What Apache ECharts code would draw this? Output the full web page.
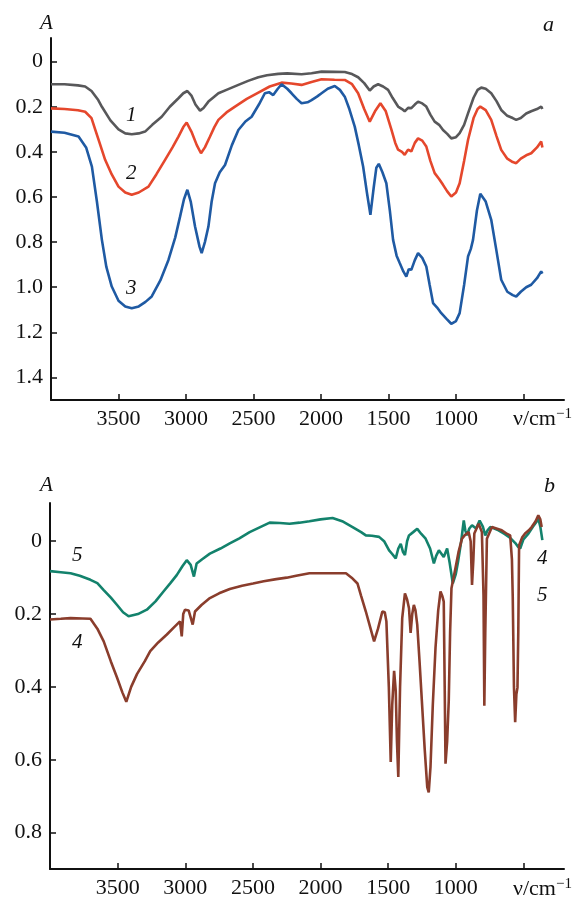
<!DOCTYPE html>
<html>
<head>
<meta charset="utf-8">
<script src="https://cdn.jsdelivr.net/npm/echarts@6/dist/echarts.min.js"></script>
<style>
html,body{margin:0;padding:0;background:#fff;}
#chart{width:587px;height:901px;}
</style>
</head>
<body>
<div id="chart"></div>
<script>
// ---- Data: [wavenumber cm^-1, absorbance A] ----
const curve1 = [[4000,0.10],[3900,0.10],[3800,0.105],[3747,0.11],[3700,0.13],[3650,0.17],[3623,0.20],[3560,0.26],[3500,0.30],[3450,0.318],[3402,0.322],[3350,0.318],[3303,0.31],[3250,0.28],[3180,0.244],[3120,0.20],[3056,0.162],[3020,0.14],[2990,0.13],[2960,0.15],[2930,0.19],[2896,0.217],[2870,0.205],[2834,0.177],[2800,0.16],[2760,0.14],[2700,0.125],[2612,0.103],[2540,0.085],[2464,0.069],[2400,0.06],[2317,0.054],[2250,0.052],[2144,0.056],[2070,0.051],[1996,0.044],[1900,0.045],[1824,0.046],[1770,0.055],[1725,0.069],[1680,0.095],[1639,0.128],[1610,0.11],[1577,0.10],[1540,0.11],[1503,0.125],[1470,0.16],[1429,0.199],[1400,0.21],[1380,0.22],[1355,0.205],[1331,0.206],[1305,0.19],[1281,0.177],[1250,0.185],[1220,0.199],[1190,0.235],[1158,0.266],[1125,0.28],[1096,0.303],[1065,0.32],[1035,0.34],[1000,0.335],[973,0.317],[940,0.28],[911,0.229],[870,0.16],[840,0.125],[813,0.115],[780,0.12],[739,0.14],[700,0.175],[665,0.214],[620,0.24],[580,0.25],[554,0.258],[520,0.25],[480,0.23],[443,0.22],[400,0.21],[369,0.199],[360,0.21]];
const curve2 = [[4000,0.207],[3900,0.21],[3800,0.215],[3747,0.222],[3700,0.25],[3673,0.30],[3640,0.36],[3599,0.435],[3550,0.50],[3500,0.554],[3450,0.58],[3402,0.59],[3350,0.58],[3278,0.554],[3220,0.50],[3155,0.435],[3100,0.38],[3056,0.332],[3020,0.29],[2995,0.27],[2960,0.31],[2920,0.37],[2889,0.406],[2860,0.38],[2822,0.332],[2790,0.29],[2760,0.258],[2700,0.225],[2637,0.199],[2550,0.165],[2464,0.137],[2380,0.11],[2292,0.093],[2220,0.097],[2144,0.103],[2070,0.09],[1996,0.078],[1900,0.08],[1824,0.081],[1770,0.10],[1725,0.14],[1680,0.21],[1639,0.266],[1600,0.22],[1560,0.184],[1520,0.22],[1479,0.30],[1450,0.36],[1429,0.39],[1400,0.40],[1380,0.413],[1355,0.39],[1331,0.398],[1305,0.36],[1281,0.34],[1250,0.35],[1220,0.376],[1190,0.44],[1158,0.494],[1125,0.52],[1096,0.546],[1065,0.575],[1035,0.598],[1000,0.58],[973,0.539],[940,0.44],[911,0.347],[870,0.25],[840,0.21],[820,0.199],[780,0.215],[739,0.258],[700,0.33],[665,0.391],[620,0.43],[580,0.445],[554,0.45],[520,0.43],[480,0.415],[443,0.406],[400,0.38],[369,0.354],[360,0.38]];
const curve3 = [[4000,0.31],[3900,0.315],[3796,0.332],[3740,0.38],[3697,0.465],[3660,0.62],[3623,0.79],[3590,0.91],[3550,0.997],[3500,1.06],[3450,1.085],[3402,1.093],[3350,1.085],[3300,1.065],[3254,1.041],[3190,0.97],[3130,0.879],[3080,0.78],[3044,0.687],[3015,0.61],[2990,0.568],[2965,0.62],[2933,0.731],[2900,0.82],[2884,0.849],[2860,0.80],[2834,0.731],[2810,0.62],[2785,0.539],[2750,0.49],[2711,0.458],[2660,0.37],[2612,0.303],[2560,0.265],[2514,0.244],[2460,0.19],[2416,0.14],[2385,0.135],[2354,0.148],[2320,0.12],[2292,0.10],[2250,0.12],[2218,0.14],[2180,0.165],[2144,0.184],[2132,0.192],[2100,0.18],[2070,0.17],[2030,0.155],[1996,0.14],[1950,0.12],[1898,0.108],[1860,0.125],[1824,0.155],[1790,0.21],[1750,0.288],[1720,0.37],[1688,0.465],[1660,0.58],[1634,0.679],[1610,0.56],[1590,0.47],[1572,0.453],[1545,0.49],[1516,0.539],[1490,0.66],[1466,0.79],[1440,0.86],[1417,0.893],[1390,0.93],[1368,0.953],[1350,0.92],[1331,0.923],[1305,0.88],[1281,0.849],[1250,0.87],[1220,0.908],[1195,0.99],[1170,1.07],[1140,1.09],[1109,1.115],[1070,1.14],[1035,1.162],[1000,1.15],[973,1.115],[940,0.99],[911,0.864],[890,0.83],[874,0.79],[845,0.66],[820,0.586],[780,0.62],[739,0.701],[700,0.84],[665,0.967],[620,1.02],[580,1.035],[554,1.041],[520,1.02],[480,1.0],[443,0.989],[400,0.96],[369,0.93],[360,0.94]];
const curve5 = [[4000,0.082],[3920,0.085],[3848,0.088],[3780,0.095],[3701,0.106],[3650,0.115],[3603,0.134],[3550,0.155],[3504,0.175],[3460,0.195],[3419,0.206],[3350,0.20],[3284,0.188],[3220,0.165],[3161,0.138],[3110,0.115],[3063,0.093],[3020,0.068],[2989,0.052],[2960,0.065],[2936,0.097],[2916,0.061],[2870,0.048],[2818,0.034],[2740,0.02],[2671,0.006],[2600,-0.008],[2524,-0.025],[2450,-0.038],[2376,-0.051],[2300,-0.05],[2229,-0.048],[2156,-0.051],[2082,-0.055],[2000,-0.06],[1911,-0.064],[1840,-0.055],[1763,-0.039],[1700,-0.025],[1665,-0.016],[1620,-0.015],[1567,-0.012],[1530,0.0],[1493,0.025],[1470,0.035],[1444,0.047],[1425,0.02],[1407,0.007],[1390,0.03],[1376,0.038],[1360,0.0],[1346,-0.016],[1315,-0.025],[1285,-0.034],[1255,-0.02],[1223,-0.007],[1190,0.02],[1162,0.061],[1145,0.04],[1125,0.025],[1105,0.035],[1089,0.043],[1064,0.02],[1045,0.06],[1022,0.116],[1000,0.09],[983,0.056],[960,0.0],[941,-0.057],[930,-0.03],[917,-0.016],[900,-0.035],[880,-0.044],[850,-0.035],[824,-0.057],[800,-0.04],[782,-0.016],[765,-0.03],[745,-0.039],[715,-0.035],[684,-0.03],[640,-0.02],[600,-0.01],[586,-0.007],[560,0.005],[540,0.015],[524,0.02],[500,-0.005],[463,-0.021],[430,-0.04],[400,-0.055],[390,-0.062],[375,-0.04],[360,-0.003]];
const curve4 = [[4000,0.215],[3920,0.213],[3848,0.211],[3760,0.212],[3701,0.213],[3650,0.24],[3603,0.275],[3550,0.33],[3504,0.375],[3465,0.415],[3436,0.441],[3400,0.40],[3357,0.365],[3300,0.33],[3259,0.302],[3200,0.278],[3136,0.256],[3080,0.235],[3039,0.22],[3026,0.261],[3015,0.20],[3002,0.188],[2975,0.19],[2965,0.193],[2945,0.229],[2928,0.193],[2880,0.175],[2818,0.156],[2750,0.143],[2671,0.131],[2580,0.122],[2499,0.116],[2420,0.11],[2327,0.104],[2250,0.10],[2180,0.095],[2082,0.088],[2008,0.088],[1900,0.088],[1812,0.088],[1770,0.10],[1727,0.116],[1700,0.15],[1665,0.193],[1630,0.24],[1604,0.275],[1575,0.24],[1543,0.193],[1525,0.195],[1513,0.22],[1495,0.40],[1481,0.606],[1470,0.45],[1456,0.356],[1444,0.411],[1435,0.55],[1425,0.647],[1412,0.40],[1396,0.211],[1376,0.143],[1360,0.16],[1346,0.184],[1334,0.252],[1322,0.20],[1310,0.175],[1298,0.19],[1285,0.229],[1268,0.33],[1248,0.456],[1230,0.57],[1211,0.675],[1200,0.69],[1187,0.62],[1170,0.45],[1150,0.293],[1130,0.19],[1113,0.138],[1100,0.15],[1089,0.166],[1082,0.40],[1076,0.611],[1064,0.55],[1052,0.438],[1042,0.25],[1032,0.129],[1003,0.075],[980,0.03],[954,-0.007],[930,-0.018],[905,-0.025],[890,0.0],[880,0.12],[870,0.05],[863,-0.021],[831,-0.048],[807,-0.025],[795,0.15],[789,0.452],[782,0.25],[770,-0.007],[733,-0.039],[700,-0.035],[660,-0.03],[620,-0.02],[598,-0.016],[585,0.05],[579,0.152],[570,0.40],[561,0.497],[552,0.42],[544,0.402],[538,0.25],[532,0.011],[510,-0.01],[488,-0.021],[460,-0.03],[439,-0.039],[410,-0.055],[390,-0.071],[375,-0.06],[365,-0.039]];

const xTickValues = [500,1000,1500,2000,2500,3000,3500];
const xLabelValues = [1000,1500,2000,2500,3000,3500];
const yTicksTop = [0,0.2,0.4,0.6,0.8,1.0,1.2,1.4];
const yTicksBottom = [0,0.2,0.4,0.6,0.8];

const FONT = 'Liberation Serif';
const axisLineStyle = {color:'#111', width:2};

function xAxis(gridIndex){
  return {
    type:'value', gridIndex, min:200, max:4000, inverse:true,
    axisLine:{show:true, onZero:false, lineStyle:axisLineStyle},
    axisTick:{show:true, inside:true, length:6, customValues:xTickValues, lineStyle:{color:'#111', width:1.5}},
    axisLabel:{show:true, customValues:xLabelValues, margin:8, color:'#111', fontFamily:FONT, fontSize:22,
      formatter:v => String(Math.round(v))},
    splitLine:{show:false}
  };
}
function yAxis(gridIndex, max, ticks){
  return {
    type:'value', gridIndex, min:-0.105, max:max, inverse:true,
    axisLine:{show:true, onZero:false, lineStyle:axisLineStyle},
    axisTick:{show:true, inside:true, length:6, customValues:ticks, lineStyle:{color:'#111', width:1.5}},
    axisLabel:{show:true, customValues:ticks, margin:8, color:'#111', fontFamily:FONT, fontSize:22,
      formatter:v => (Math.abs(v) < 1e-9 ? '0' : v.toFixed(1))},
    splitLine:{show:false}
  };
}
function line(name, data, color, xi, yi, z){
  return {name, type:'line', data, xAxisIndex:xi, yAxisIndex:yi, showSymbol:false, symbol:'none',
    smooth:false, z:z, lineStyle:{color, width:2.6}, animation:false};
}

function txt(left, top, text, size, italic){
  return {type:'text', left, top, style:{text, fill:'#111', fontFamily:FONT, fontSize:size, fontStyle:italic?'italic':'normal'}};
}
function unit(left, top){
  return {type:'text', left, top, style:{
    rich:{a:{fontFamily:FONT, fontSize:22, fill:'#111'}, s:{fontFamily:FONT, fontSize:15, fill:'#111', verticalAlign:'top', padding:[0,0,10,0]}},
    text:'{a|ν/cm}{s|−1}'}};
}

const chart = echarts.init(document.getElementById('chart'));
chart.setOption({
  backgroundColor:'#fff',
  animation:false,
  grid:[
    {left:51, right:23, top:38, height:362},
    {left:50, right:23, top:503, height:366}
  ],
  xAxis:[xAxis(0), xAxis(1)],
  yAxis:[yAxis(0, 1.5, yTicksTop), yAxis(1, 0.9, yTicksBottom)],
  series:[
    line('1', curve1, '#58585a', 0, 0, 3),
    line('2', curve2, '#e5472c', 0, 0, 4),
    line('3', curve3, '#1f5aa3', 0, 0, 5),
    line('5', curve5, '#13826c', 1, 1, 3),
    line('4', curve4, '#8a3d2c', 1, 1, 4)
  ],
  graphic:[
    txt(40, 13, 'A', 21, true),
    txt(543, 14, 'a', 22, true),
    txt(126, 105, '1', 21, true),
    txt(126, 163, '2', 21, true),
    txt(126, 278, '3', 21, true),
    txt(40, 475, 'A', 21, true),
    txt(544, 475, 'b', 22, true),
    txt(72, 545, '5', 21, true),
    txt(72, 632, '4', 21, true),
    txt(537, 548, '4', 21, true),
    txt(537, 585, '5', 21, true),
    unit(513, 407),
    unit(513, 877)
  ]
});
</script>
</body>
</html>
